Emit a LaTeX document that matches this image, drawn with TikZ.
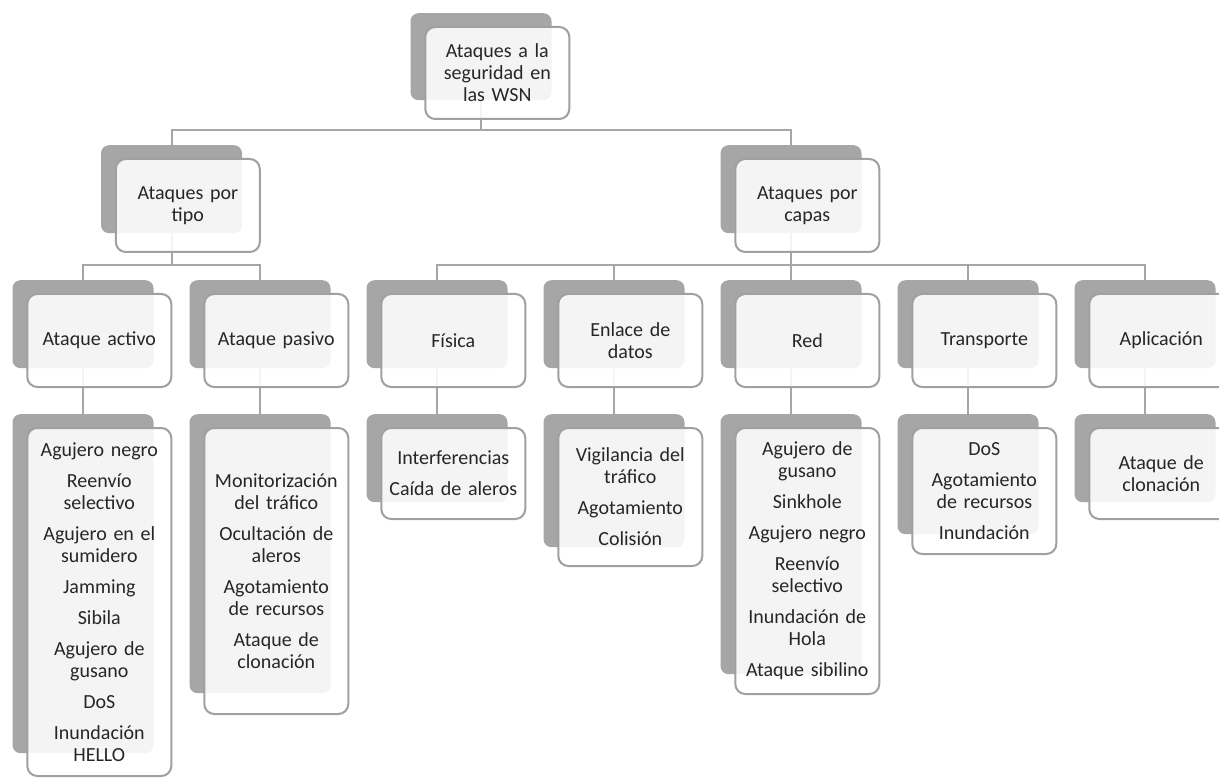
\documentclass[tikz,border=0pt]{standalone}
\usepackage{fontspec}
\setmainfont{Carlito}
\usetikzlibrary{calc}
\definecolor{cardgray}{HTML}{A6A6A6}
\definecolor{edgegray}{HTML}{A0A0A0}
\definecolor{inkdark}{HTML}{262626}
\pgfdeclarelayer{bg}
\pgfsetlayers{bg,main}
\tikzset{
  backcard/.style={fill=cardgray, rounded corners=8pt, minimum width=141pt, inner sep=0pt, anchor=north},
  frontcard/.style={draw=edgegray, line width=2pt, fill=white, fill opacity=0.88, text opacity=1,
    rounded corners=10pt, minimum width=144pt, inner sep=0pt, anchor=north west,
    text width=140pt, align=center, text=inkdark, font=\fontsize{20}{22}\selectfont},
  link/.style={draw=cardgray, line width=2pt},
}
% #1 name, #2 centre x of the grey card, #3 its top, #4 its height, #5 height of the white card, #6 text
\newcommand\card[6]{%
  \begin{pgfonlayer}{bg}
    \node[backcard, minimum height=#4pt] (#1-b) at (#2,#3) {};
  \end{pgfonlayer}
  \node[frontcard, minimum height=#5pt] (#1) at ([shift={(14pt,-13pt)}]#1-b.north west) {#6};
}
\newcommand\gap{\\[9pt]}
\begin{document}
\begin{tikzpicture}[x=1pt,y=-1pt]
\clip (0,0) rectangle (1219,778);
\begin{pgfonlayer}{bg}
  \fill[white] (0,0) rectangle (1219,778);
\end{pgfonlayer}

% root and the two families of attacks
\card{root}{481}{13}{87}{92}{Ataques a la\\seguridad en\\las WSN}
\card{tipo}{171.5}{145}{88}{93}{Ataques por\\tipo}
\card{capas}{791}{145}{88}{93}{Ataques por\\capas}

% second level
\card{activo}{83}{280}{88}{93}{Ataque activo}
\card{pasivo}{260}{280}{88}{93}{Ataque pasivo}
\card{fisica}{437}{280}{88}{93}{Física}
\card{enlace}{614}{280}{88}{93}{Enlace de\\datos}
\card{red}{791}{280}{88}{93}{Red}
\card{transp}{968}{280}{88}{93}{Transporte}
\card{aplic}{1145}{280}{88}{93}{Aplicación}

% lists of attacks
\card{activoL}{83}{414}{339}{348}{Agujero negro\gap Reenvío\\selectivo\gap Agujero en el\\sumidero\gap Jamming\gap Sibila\gap Agujero de\\gusano\gap DoS\gap Inundación\\HELLO}
\card{pasivoL}{260}{414}{279}{286}{Monitorización\\del tráfico\gap Ocultación de\\aleros\gap Agotamiento\\de recursos\gap Ataque de\\clonación}
\card{fisicaL}{437}{414}{88}{91}{Interferencias\gap Caída de aleros}
\card{enlaceL}{614}{414}{133}{138}{Vigilancia del\\tráfico\gap Agotamiento\gap Colisión}
\card{redL}{791}{414}{260}{266}{Agujero de\\gusano\gap Sinkhole\gap Agujero negro\gap Reenvío\\selectivo\gap Inundación de\\Hola\gap Ataque sibilino}
\card{transpL}{968}{414}{120}{126}{DoS\gap Agotamiento\\de recursos\gap Inundación}
\card{aplicL}{1145}{414}{88}{91}{Ataque de\\clonación}

% connectors
\begin{pgfonlayer}{bg}
  \foreach \c in {tipo,capas}
    \draw[link] (\c-b.north) -- ++(0,15pt) -| (root-b.south);
  \foreach \c in {activo,pasivo}
    \draw[link] (\c-b.north) -- ++(0,15pt) -| (tipo-b.south);
  \foreach \c in {fisica,enlace,red,transp,aplic}
    \draw[link] (\c-b.north) -- ++(0,15pt) -| (capas-b.south);
  \foreach \c in {activo,pasivo,fisica,enlace,red,transp,aplic}
    \draw[link] (\c-b.south) -- (\c L-b.north);
\end{pgfonlayer}
\end{tikzpicture}
\end{document}
